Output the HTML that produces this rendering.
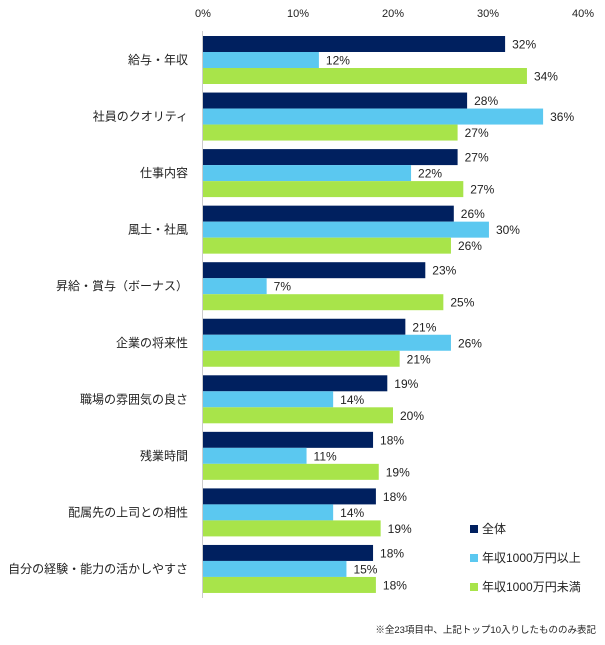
<!DOCTYPE html>
<html><head><meta charset="utf-8"><style>
body{margin:0;background:#fff;width:605px;height:640px;overflow:hidden}
svg text{font-family:"Liberation Sans","Noto Sans CJK JP",sans-serif;fill:#222}
</style></head><body>
<svg id="c" width="605" height="640"></svg>
<script>
const categories=["給与・年収","社員のクオリティ","仕事内容","風土・社風","昇給・賞与（ボーナス）","企業の将来性","職場の雰囲気の良さ","残業時間","配属先の上司との相性","自分の経験・能力の活かしやすさ"];
const seriesNames=["全体","年収1000万円以上","年収1000万円未満"];
const valuesAll=[31.8,27.8,26.8,26.4,23.4,21.3,19.4,17.9,18.2,17.9];
const valuesHigh=[12.2,35.8,21.9,30.1,6.7,26.1,13.7,10.9,13.7,15.1];
const valuesLow=[34.1,26.8,27.4,26.1,25.3,20.7,20.0,18.5,18.7,18.2];
const ticks=[0,10,20,30,40];
const colors=["#00205f","#5bc8f0","#a8e44a"];
const NS="http://www.w3.org/2000/svg";
const svg=document.getElementById('c');
const x=v=>203+v*9.5;
const gy=i=>36+i*56.55;
function mk(t,a,txt){const e=document.createElementNS(NS,t);for(const k in a)e.setAttribute(k,a[k]);if(txt!==undefined)e.textContent=txt;svg.appendChild(e);return e;}
ticks.forEach(t=>{
 const e=mk('text',{x:x(t),y:17,'text-anchor':'middle','font-size':11},t+'%');
 
 
});
const series=[valuesAll,valuesHigh,valuesLow];
categories.forEach((c,i)=>{
 const l=mk('text',{x:188,y:gy(i)+28,'text-anchor':'end','font-size':12},c);
 
 
 series.forEach((s,j)=>{
  const y0=gy(i)+j*16;
  const r=mk('rect',{x:x(0),y:y0,width:x(s[i])-x(0),height:16,fill:colors[j]});
  
  
  const t=mk('text',{x:x(s[i])+7,y:y0+12.5,'font-size':12},Math.round(s[i])+'%');
  
  
 });
});
const ax=mk('line',{x1:202.5,y1:31,x2:202.5,y2:598,stroke:'#ccc','stroke-width':1});


seriesNames.forEach((n,j)=>{
 const yy=[525,554,583][j];
 const s=mk('rect',{x:470,y:yy,width:8,height:8,fill:colors[j]});
 
 
 const t=mk('text',{x:482,y:yy+8,'font-size':12},n);
 
 
});
const f=mk('text',{x:596,y:633,'text-anchor':'end','font-size':9.5},'※全23項目中、上記トップ10入りしたもののみ表記');


</script>
</body></html>
